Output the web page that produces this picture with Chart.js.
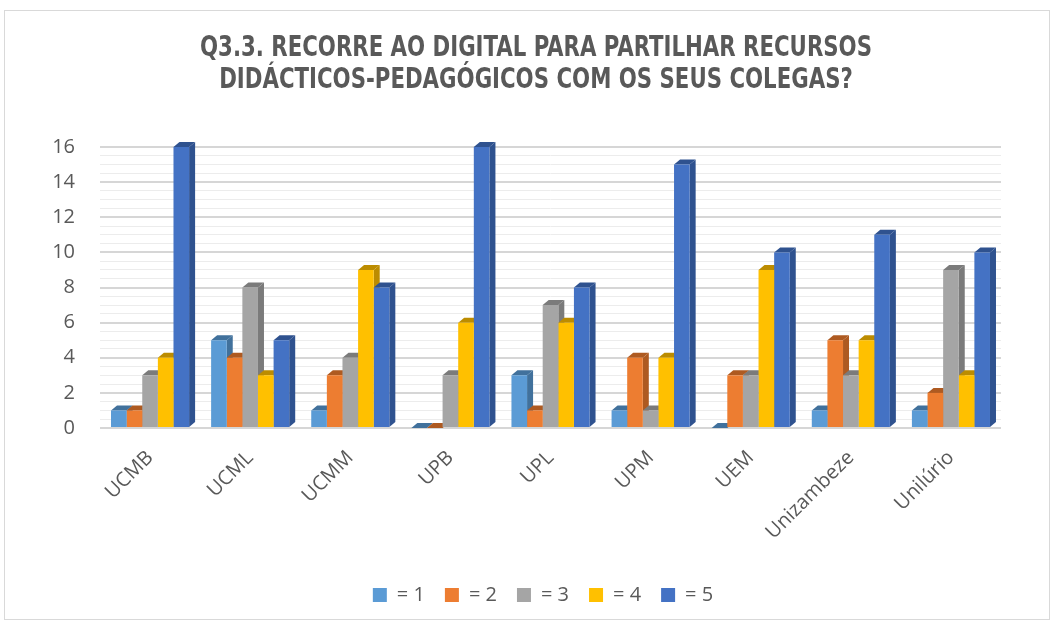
<!DOCTYPE html>
<html>
<head>
<meta charset="utf-8">
<script src="https://cdn.jsdelivr.net/npm/chart.js@4.4.0/dist/chart.umd.min.js"></script>
<style>
  html, body { margin: 0; padding: 0; background: #fff; }
  #wrap { position: relative; width: 1056px; height: 625px; }
  #frame { position: absolute; left: 4px; top: 10px; width: 1046px; height: 610px; border: 1px solid #d9d9d9; box-sizing: border-box; pointer-events: none; }
  canvas { position: absolute; left: 0; top: 0; }
</style>
</head>
<body>
<div id="wrap">
  <canvas id="chart" width="1056" height="625"></canvas>
  <div id="frame"></div>
</div>
<script>
// Categories (institutions)
const categories = ['UCMB', 'UCML', 'UCMM', 'UPB', 'UPL', 'UPM', 'UEM', 'Unizambeze', 'Unilúrio'];

// Series values (answers = 1 .. = 5)
const answer1 = [1, 5, 1, 0, 3, 1, 0, 1, 1];
const answer2 = [1, 4, 3, 0, 1, 4, 3, 5, 2];
const answer3 = [3, 8, 4, 3, 7, 1, 3, 3, 9];
const answer4 = [4, 3, 9, 6, 6, 4, 9, 5, 3];
const answer5 = [16, 5, 8, 16, 8, 15, 10, 11, 10];

const seriesLabels = ['= 1', '= 2', '= 3', '= 4', '= 5'];
const seriesColors = ['#5b9bd5', '#ed7d31', '#a5a5a5', '#ffc000', '#4472c4'];
const sideColors = ['#41719c', '#ae5a21', '#7b7b7b', '#bc8c00', '#2f528f'];

const titleLines = ['Q3.3. RECORRE AO DIGITAL PARA PARTILHAR RECURSOS', 'DIDÁCTICOS-PEDAGÓGICOS COM OS SEUS COLEGAS?'];

// Condensed bold title, squeezed to the width it has in the original
const titlePlugin = {
    id: 'condensedTitle',
    afterDraw(chart) {
        const ctx = chart.ctx;
        ctx.save();
        ctx.font = "bold 28px 'DejaVu Sans', sans-serif";
        try { ctx.fontStretch = 'condensed'; } catch (e) {}
        ctx.fillStyle = '#595959';
        ctx.textAlign = 'center';
        ctx.textBaseline = 'middle';
        const w0 = ctx.measureText(titleLines[0]).width;
        const sx = 672 / w0;
        [49, 81].forEach((y, i) => {
            ctx.save();
            ctx.translate(536, y);
            ctx.scale(sx, 1);
            ctx.fillText(titleLines[i], 0, 0);
            ctx.restore();
        });
        ctx.restore();
    }
};

// Fake 3D: draw side and top faces before the bar fronts
const depthPlugin = {
    id: 'depth',
    beforeDatasetsDraw(chart) {
        const ctx = chart.ctx;
        const dx = 6, dy = 5;
        ctx.save();
        chart.data.datasets.forEach((ds, i) => {
            const meta = chart.getDatasetMeta(i);
            meta.data.forEach(bar => {
                const l = bar.x - bar.width / 2;
                const r = bar.x + bar.width / 2;
                ctx.fillStyle = sideColors[i];
                // right face
                ctx.beginPath();
                ctx.moveTo(r, bar.y);
                ctx.lineTo(r + dx, bar.y - dy);
                ctx.lineTo(r + dx, bar.base - dy);
                ctx.lineTo(r, bar.base);
                ctx.closePath();
                ctx.fill();
                // top face
                ctx.beginPath();
                ctx.moveTo(l, bar.y);
                ctx.lineTo(l + dx, bar.y - dy);
                ctx.lineTo(r + dx, bar.y - dy);
                ctx.lineTo(r, bar.y);
                ctx.closePath();
                ctx.fill();
            });
        });
        ctx.restore();
    }
};

const allSeries = [answer1, answer2, answer3, answer4, answer5];
const isMajor = v => Math.abs(v % 2) < 1e-6;

const ctx = document.getElementById('chart').getContext('2d');
const chart = new Chart(ctx, {
    type: 'bar',
    data: {
        labels: categories,
        datasets: allSeries.map((values, i) => ({
            label: seriesLabels[i],
            data: values,
            backgroundColor: seriesColors[i],
            borderWidth: 0,
            categoryPercentage: 0.78,
            barPercentage: 1.0
        }))
    },
    options: {
        responsive: false,
        animation: false,
        layout: { padding: { left: 40, right: 10, top: 147, bottom: 10 } },
        plugins: {
            title: { display: false },
            legend: {
                position: 'bottom',
                labels: {
                    color: '#595959',
                    font: { family: "'Open Sans', sans-serif", size: 20 },
                    boxWidth: 14,
                    boxHeight: 14,
                    padding: 20
                }
            },
            tooltip: { enabled: false }
        },
        scales: {
            x: {
                grid: { display: false },
                border: { display: false },
                ticks: {
                    color: '#595959',
                    font: { family: "'Open Sans', sans-serif", size: 20 },
                    minRotation: 45,
                    maxRotation: 45,
                    padding: 10
                },
                afterFit(scale) { scale.height = 137; }
            },
            y: {
                min: 0,
                max: 16,
                border: { display: false },
                grid: {
                    drawTicks: false,
                    color: c => (isMajor(c.tick.value) ? '#d6d6d6' : '#ececec'),
                    lineWidth: c => (isMajor(c.tick.value) ? 2 : 1)
                },
                ticks: {
                    stepSize: 0.5,
                    autoSkip: false,
                    maxTicksLimit: 100,
                    color: '#595959',
                    font: { family: "'Open Sans', sans-serif", size: 20 },
                    padding: 25,
                    callback: v => (isMajor(v) ? v : '')
                },
                afterFit(scale) { scale.width = 60; }
            },
            yRight: {
                position: 'right',
                display: true,
                grid: { display: false },
                border: { display: false },
                ticks: { display: false },
                afterFit(scale) { scale.width = 45; }
            }
        }
    },
    plugins: [depthPlugin, titlePlugin]
});
</script>
</body>
</html>
